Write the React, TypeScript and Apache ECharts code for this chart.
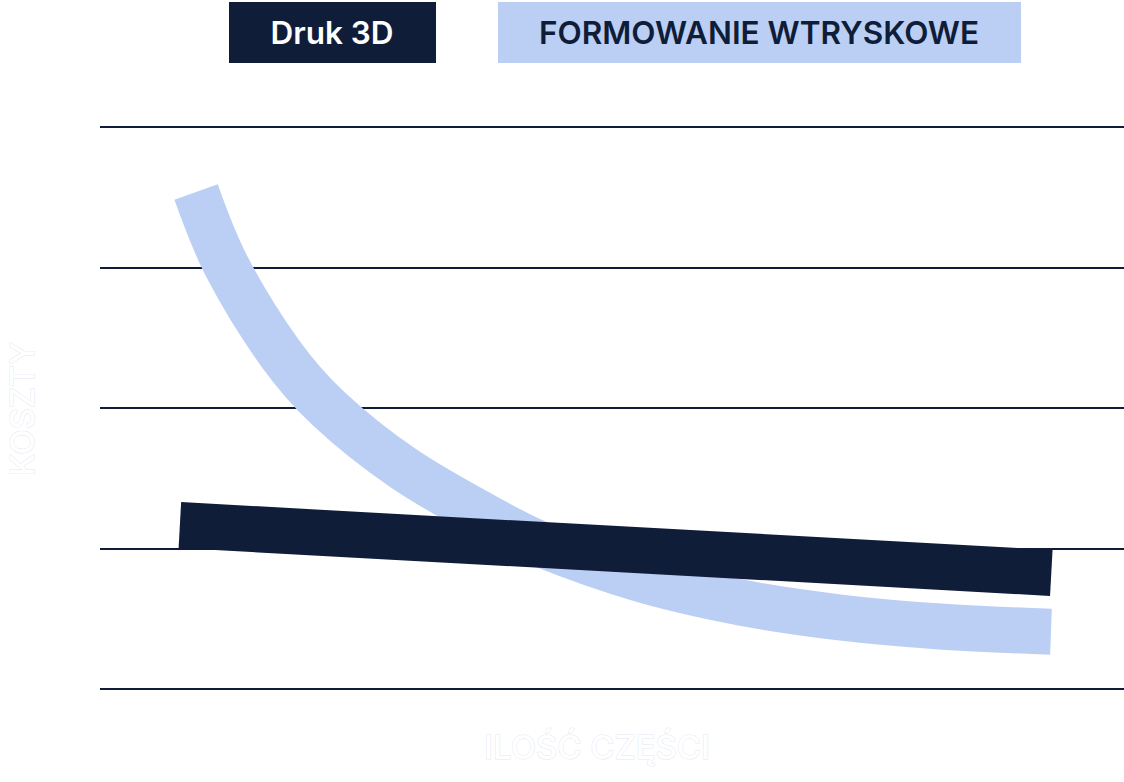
import React, { useEffect, useRef } from "react";
import * as echarts from "echarts";

const seriesNames = ["Druk 3D", "FORMOWANIE WTRYSKOWE"];
const yTicks = [0, 1, 2, 3, 4];
const druk3dX = [7.8, 92.9];
const druk3dY = [1.167, 0.826];
const moldingX = [9.38, 12.4, 17.58, 22.36, 29.59, 38.09, 42.97, 52.73, 62.5, 72.27, 82.03, 92.87];
const moldingY = [3.537, 3.004, 2.391, 1.993, 1.573, 1.21, 1.032, 0.783, 0.616, 0.509, 0.445, 0.408];
const yAxisName = "KOSZTY";
const xAxisName = "ILOŚĆ CZĘŚCI";

const NAVY = "#0f1d38";
const LIGHT = "#bbcff4";

export default function App() {
  const ref = useRef<HTMLDivElement>(null);
  useEffect(() => {
    document.body.style.margin = "0";
    if (!ref.current) return;
    const chart = echarts.init(ref.current, null, { renderer: "svg" });
    const font = "Inter, 'Noto Sans', sans-serif";
    chart.setOption({
      animation: false,
      backgroundColor: "#ffffff",
      grid: { left: 100, right: 0, top: 127, bottom: 93, containLabel: false },
      xAxis: {
        type: "value",
        min: 0,
        max: 100,
        axisLine: { show: false },
        axisTick: { show: false },
        axisLabel: { show: false },
        splitLine: { show: false },
      },
      yAxis: {
        type: "value",
        min: yTicks[0],
        max: yTicks[yTicks.length - 1],
        interval: 1,
        axisLine: { show: false },
        axisTick: { show: false },
        axisLabel: { show: false },
        splitLine: { show: true, lineStyle: { color: NAVY, width: 2 } },
      },
      series: [
        {
          name: seriesNames[1],
          type: "line",
          smooth: 0.35,
          showSymbol: false,
          symbol: "none",
          clip: false,
          lineStyle: { color: LIGHT, width: 46, cap: "butt", join: "round" },
          data: moldingX.map((x, i) => [x, moldingY[i]]),
          z: 2,
        },
        {
          name: seriesNames[0],
          type: "line",
          showSymbol: false,
          symbol: "none",
          clip: false,
          lineStyle: { color: NAVY, width: 46, cap: "butt" },
          data: druk3dX.map((x, i) => [x, druk3dY[i]]),
          z: 3,
        },
      ],
      graphic: [
        {
          type: "rect",
          shape: { x: 229, y: 2, width: 207, height: 61 },
          style: { fill: NAVY },
        },
        {
          type: "text",
          x: 332,
          y: 32,
          style: {
            text: seriesNames[0],
            fill: "#ffffff",
            font: `600 31.5px ${font}`,
            align: "center",
            verticalAlign: "middle",
          },
        },
        {
          type: "rect",
          shape: { x: 498, y: 2, width: 523, height: 61 },
          style: { fill: LIGHT },
        },
        {
          type: "text",
          x: 759,
          y: 32,
          style: {
            text: seriesNames[1],
            fill: NAVY,
            font: `600 31.5px ${font}`,
            align: "center",
            verticalAlign: "middle",
          },
        },
        {
          type: "text",
          x: 22,
          y: 409,
          rotation: Math.PI / 2,
          style: {
            text: yAxisName,
            fill: "#ffffff",
            stroke: "#e3e8f3",
            lineWidth: 1,
            font: `500 33px ${font}`,
            align: "center",
            verticalAlign: "middle",
          },
        },
        {
          type: "text",
          x: 597,
          y: 747,
          style: {
            text: xAxisName,
            fill: "#ffffff",
            stroke: "#e3e8f3",
            lineWidth: 1,
            font: `500 33px ${font}`,
            align: "center",
            verticalAlign: "middle",
          },
        },
      ],
    });
    return () => chart.dispose();
  }, []);
  return <div ref={ref} style={{ width: 1124, height: 782 }} />;
}
